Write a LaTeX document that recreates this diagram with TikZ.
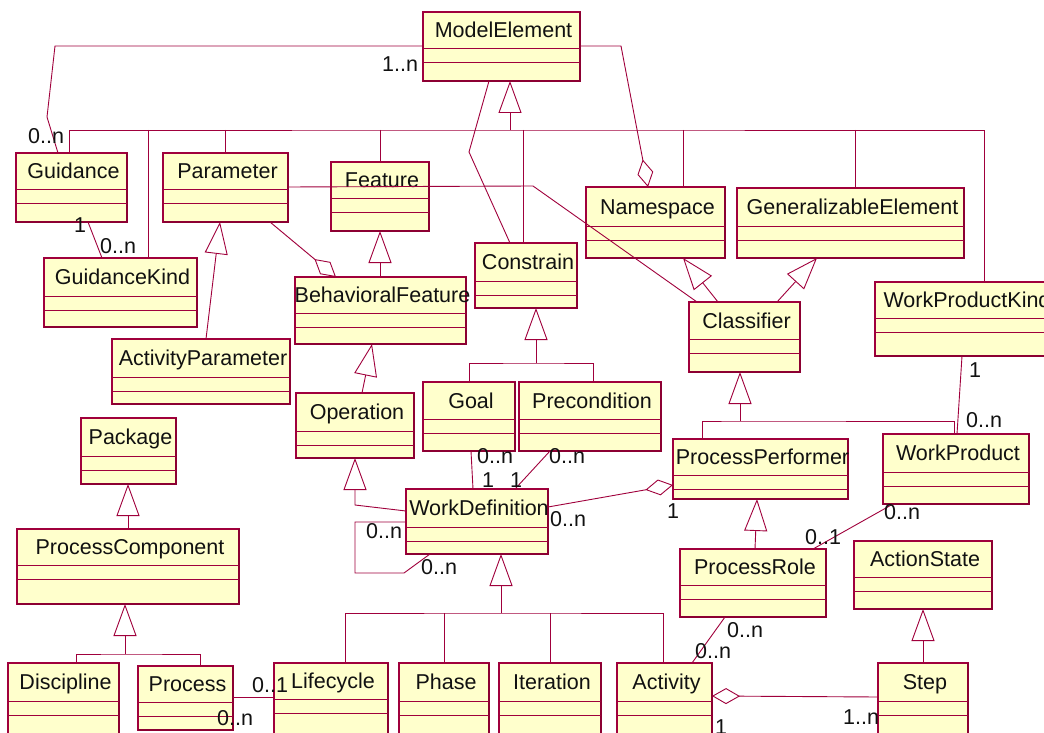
\documentclass[tikz,border=0pt]{standalone}
\usepackage{fontspec}
\setmainfont{Liberation Sans}
\usetikzlibrary{arrows.meta,calc}
\definecolor{umlred}{RGB}{160,0,60}
\definecolor{umldark}{RGB}{140,0,50}
\definecolor{umlfill}{RGB}{255,255,204}
\definecolor{umltext}{RGB}{17,17,17}

\tikzset{
  classbox/.style={rectangle, draw=umlred, fill=umlfill, line width=1.1pt, inner sep=0pt, outer sep=0pt},
  boxshade/.style={draw=umldark, line width=1.7pt},
  divider/.style={draw=umlred, line width=0.9pt},
  classname/.style={anchor=base, inner sep=0pt, text=umltext, font=\fontsize{21.5}{24}\selectfont},
  mult/.style={anchor=base west, inner sep=0pt, text=umltext, font=\fontsize{21.5}{24}\selectfont},
  assoc/.style={draw=umlred, line width=0.9pt},
  gen/.style={assoc, -{Triangle[open, length=32pt, width=23pt, line width=0.9pt]}},
  aggr/.style={assoc, -{Diamond[open, length=28pt, width=16pt, line width=0.9pt]}},
}

% class box: name, left, top, right, bottom, first divider, title
\newcommand{\umlclass}[7]{%
  \node[classbox, minimum width={(#4)-(#2)}, minimum height={(#5)-(#3)}]
    (#1) at ({((#2)+(#4))/2},{((#3)+(#5))/2}) {};
  \draw[boxshade] (#1.south west) -- (#1.south east) -- (#1.north east);
  \draw[divider] (#2,#6) -- (#4,#6) (#2,{#6+14}) -- (#4,{#6+14});
  \node[classname] (#1-title) at ({((#2)+(#4))/2+2},{((#3)+(#6))/2+7.5}) {#7};
}

\begin{document}
\begin{tikzpicture}[x=1pt, y=-1pt]
\useasboundingbox (0,0) rectangle (1044,733);
\clip (0,0) rectangle (1044,733);
\fill[white] (0,0) rectangle (1044,733);

% ---- classes ----
\umlclass{me}{423}{12}{580}{81}{48}{ModelElement}
\umlclass{guid}{16}{153}{127}{222}{189}{Guidance}
\umlclass{param}{163}{153}{288}{222}{189}{Parameter}
\umlclass{feat}{331}{162}{429}{231}{198}{Feature}
\umlclass{ns}{586}{187}{725}{258}{226}{Namespace}
\umlclass{genel}{737}{188}{964}{258}{226}{GeneralizableElement}
\umlclass{cons}{475}{243}{577}{308}{281}{Constrain}
\umlclass{gkind}{44}{258}{197}{327}{296}{GuidanceKind}
\umlclass{behf}{295}{277}{466}{344}{313}{BehavioralFeature}
\umlclass{wpk}{875}{282}{1055}{356}{318}{WorkProductKind}
\umlclass{cls}{689}{302}{800}{372}{339}{Classifier}
\umlclass{aparam}{112}{339}{290}{404}{377}{ActivityParameter}
\umlclass{pkg}{81}{418}{176}{484}{456}{Package}
\umlclass{oper}{296}{393}{414}{458}{431}{Operation}
\umlclass{goal}{423}{382}{515}{451}{419}{Goal}
\umlclass{prec}{519}{382}{661}{451}{419}{Precondition}
\umlclass{wdef}{406}{489}{548}{554}{527}{WorkDefinition}
\umlclass{pperf}{673}{439}{848}{499}{475}{ProcessPerformer}
\umlclass{wprod}{883}{434}{1029}{504}{472}{WorkProduct}
\umlclass{prole}{680}{549}{826}{617}{585}{ProcessRole}
\umlclass{astate}{854}{541}{992}{609}{577}{ActionState}
\umlclass{pcomp}{17}{529}{239}{604}{565}{ProcessComponent}
\umlclass{disc}{8}{663}{119}{740}{701}{Discipline}
\umlclass{proc}{138}{666}{233}{730}{702}{Process}
\umlclass{life}{274}{663}{388}{740}{699}{Lifecycle}
\umlclass{phase}{399}{663}{489}{740}{701}{Phase}
\umlclass{iter}{499}{663}{601}{740}{701}{Iteration}
\umlclass{act}{617}{663}{712}{740}{701}{Activity}
\umlclass{step}{878}{663}{968}{740}{701}{Step}

% ---- generalizations ----
\coordinate (meBus) at (510,130);
\draw[gen] (meBus) -- (me.south -| meBus);
\draw[assoc] (guid.north -| 69,0) |- (meBus) -| (wpk.north -| 984,0);
\draw[assoc] (meBus -| 148,0) -- (gkind.north -| 148,0);
\draw[assoc] (meBus -| 225,0) -- (param.north -| 225,0);
\draw[assoc] (meBus -| 380,0) -- (feat.north -| 380,0);
\draw[assoc] (meBus -| 523,0) -- (cons.north -| 523,0);
\draw[assoc] (meBus -| 683,0) -- (ns.north -| 683,0);
\draw[assoc] (meBus -| 855,0) -- (genel.north -| 855,0);

\draw[gen] (behf.north -| 380,0) -- (feat.south -| 380,0);
\draw[gen] (aparam.north -| 206,0) -- (param.south -| 220,0);
\draw[gen] (oper.north -| 362,0) -- (behf.south -| 372,0);

\coordinate (consBus) at (536,363);
\draw[gen] (consBus) -- (cons.south -| consBus);
\draw[assoc] (goal.north -| 469,0) |- (consBus) -| (prec.north -| 593,0);

\draw[gen] (wdef.west |- 0,511) -- (355,505) -- (oper.south -| 355,0);

\coordinate (wdBus) at (501,613);
\draw[gen] (wdBus) -- (wdef.south -| wdBus);
\draw[assoc] (life.north -| 345,0) |- (wdBus) -| (act.north -| 663,0);
\draw[assoc] (phase.north -| 444,0) -- (wdBus -| 444,0);
\draw[assoc] (iter.north -| 550,0) -- (wdBus -| 550,0);

\draw[gen] (cls.north -| 718,0) -- (ns.south -| 683,0);
\draw[gen] (cls.north -| 777,0) -- (genel.south -| 817,0);

\coordinate (clsBus) at (740,421);
\draw[gen] (clsBus) -- (cls.south -| clsBus);
\draw[assoc] (pperf.north -| 702,0) |- (clsBus) -| (wprod.north -| 954,0);

\draw[gen] (prole.north -| 755,0) -- (pperf.south -| 757,0);
\draw[gen] (step.north -| 923,0) -- (astate.south -| 923,0);
\draw[gen] (pcomp.north -| 128,0) -- (pkg.south -| 128,0);

\coordinate (pcBus) at (125,654);
\draw[gen] (pcBus) -- (pcomp.south -| pcBus);
\draw[assoc] (disc.north -| 76,0) |- (pcBus) -| (proc.north -| 200,0);

% ---- associations ----
\draw[assoc] (me.west |- 0,46) -- (55,46) -- (47,117) -- (guid.north -| 58,0);
\draw[aggr] (me.east |- 0,46) -- (621,46) -- (ns.north -| 648,0);
\draw[assoc] (me.south -| 489,0) -- (469,152) -- (cons.north -| 510,0);
\draw[assoc] (param.east |- 0,187) -- (533,186) -- (cls.north -| 697,0);
\draw[aggr] (param.south -| 270,0) -- (behf.north -| 336,0);
\draw[assoc] (guid.south -| 88,0) -- (gkind.north -| 102,0);
\draw[assoc] (goal.south -| 471,0) -- (wdef.north -| 473,0);
\draw[assoc] (prec.south -| 550,0) -- (wdef.north -| 515,0);
\draw[aggr] (wdef.east |- 0,507) -- (pperf.west |- 0,485);
\draw[assoc] (wdef.west |- 0,522) -- (355,522) -- (355,573) -- (404,573) -- (wdef.south -| 430,0);
\draw[assoc] (wpk.south -| 962,0) -- (wprod.north -| 957,0);
\draw[assoc] (wprod.south -| 893,0) -- (prole.north -| 813,0);
\draw[assoc] (prole.south -| 725,0) -- (act.north -| 692,0);
\draw[aggr] (step.west |- 0,697) -- (act.east |- 0,696);
\draw[assoc] (proc.east |- 0,697) -- (life.west |- 0,697);

% ---- multiplicities ----
\node[mult] (m1) at (382,72) {1..n};
\node[mult] (m2) at (28,143) {0..n};
\node[mult] (m3) at (74,232) {1};
\node[mult] (m4) at (100,253) {0..n};
\node[mult] (m5) at (477,463) {0..n};
\node[mult] (m6) at (482,487) {1};
\node[mult] (m7) at (549,463) {0..n};
\node[mult] (m8) at (510,487) {1};
\node[mult] (m9) at (550,526) {0..n};
\node[mult] (m10) at (667,518) {1};
\node[mult] (m11) at (366,538) {0..n};
\node[mult] (m12) at (421,574) {0..n};
\node[mult] (m13) at (969,377) {1};
\node[mult] (m14) at (966,427) {0..n};
\node[mult] (m15) at (884,519) {0..n};
\node[mult] (m16) at (805,544) {0..1};
\node[mult] (m17) at (727,637) {0..n};
\node[mult] (m18) at (695,658) {0..n};
\node[mult] (m19) at (715,734) {1};
\node[mult] (m20) at (843,724) {1..n};
\node[mult] (m21) at (252,692) {0..1};
\node[mult] (m22) at (217,725) {0..n};
\end{tikzpicture}
\end{document}
